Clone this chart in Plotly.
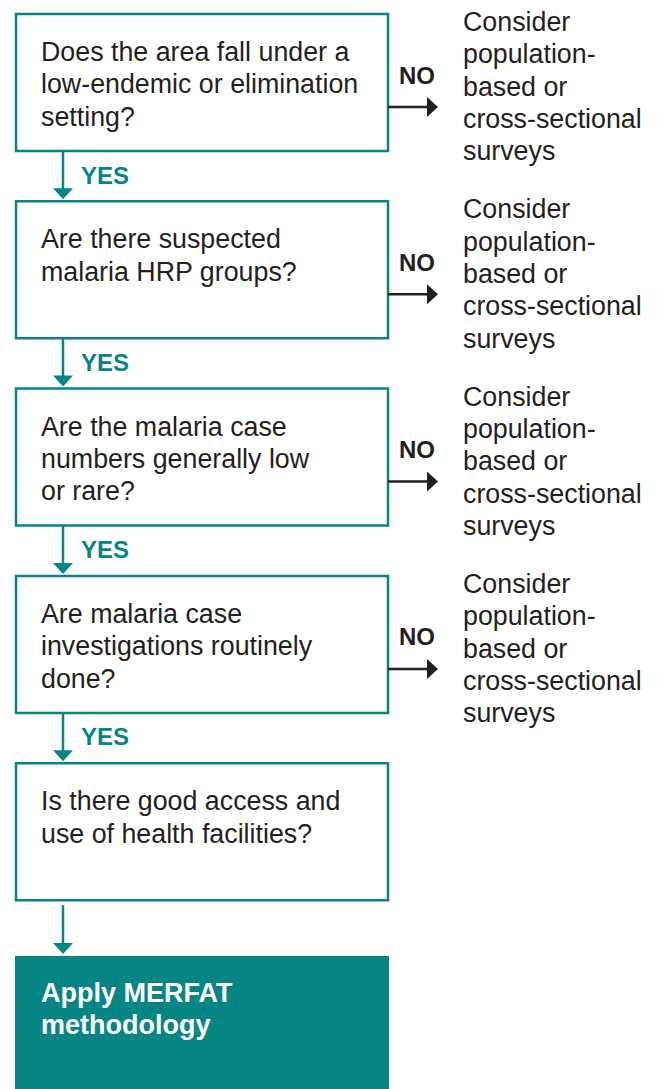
import plotly.graph_objects as go

# ---- data ----
questions = [
    ["Does the area fall under a", "low-endemic or elimination", "setting?"],
    ["Are there suspected", "malaria HRP groups?"],
    ["Are the malaria case", "numbers generally low", "or rare?"],
    ["Are malaria case", "investigations routinely", "done?"],
    ["Is there good access and", "use of health facilities?"],
]
no_outcome = ["Consider", "population-", "based or", "cross-sectional", "surveys"]
no_branch = [True, True, True, True, False]
yes_label = "YES"
no_label = "NO"
final_lines = ["Apply MERFAT", "methodology"]

# ---- layout constants (pixels) ----
W, H = 657, 1089
TEAL = "#078585"
DARK = "#231f20"
BOX_L, BOX_R = 16, 388
BOX_TOP0 = 14
BOX_H = 137
BOX_STEP = 187.3
TEXT_X = 39
LINE_H = 32.3
ARROW_X = 63
FINAL_TOP = 956
FONT = "Liberation Sans, Arial, sans-serif"
FS = 26.8

fig = go.Figure()
shapes = []
annotations = []

for i, lines in enumerate(questions):
    top = BOX_TOP0 + i * BOX_STEP
    bot = top + BOX_H
    shapes.append(dict(type="rect", x0=BOX_L, x1=BOX_R, y0=top, y1=bot,
                       line=dict(color=TEAL, width=2.5), fillcolor="white"))
    for j, ln in enumerate(lines):
        annotations.append(dict(x=TEXT_X, y=top + 38 + j * LINE_H, text=ln,
                                xanchor="left", yanchor="middle", showarrow=False,
                                font=dict(family=FONT, size=FS, color=DARK)))
    # down arrow
    next_top = (BOX_TOP0 + (i + 1) * BOX_STEP) if i < len(questions) - 1 else FINAL_TOP
    shapes.append(dict(type="line", x0=ARROW_X, x1=ARROW_X, y0=bot + (5 if not no_branch[i] else 0),
                       y1=next_top - 8, line=dict(color=TEAL, width=2.5)))
    shapes.append(dict(type="path",
                       path=f"M {ARROW_X-10} {next_top-13} L {ARROW_X+10} {next_top-13} L {ARROW_X} {next_top-2} Z",
                       fillcolor=TEAL, line=dict(width=0)))
    if no_branch[i]:
        annotations.append(dict(x=ARROW_X + 16, y=bot + 24, text=f"<b>{yes_label}</b>",
                                xanchor="left", yanchor="middle", showarrow=False,
                                font=dict(family=FONT, size=24, color=TEAL)))
        # NO arrow
        ay = top + 93
        shapes.append(dict(type="line", x0=BOX_R, x1=428, y0=ay, y1=ay,
                           line=dict(color=DARK, width=2.5)))
        shapes.append(dict(type="path",
                           path=f"M 427 {ay-10} L 438 {ay} L 427 {ay+10} Z",
                           fillcolor=DARK, line=dict(width=0)))
        annotations.append(dict(x=397, y=top + 61, text=f"<b>{no_label}</b>",
                                xanchor="left", yanchor="middle", showarrow=False,
                                font=dict(family=FONT, size=24, color=DARK)))
        for j, ln in enumerate(no_outcome):
            annotations.append(dict(x=461, y=top + 8 + j * LINE_H, text=ln,
                                    xanchor="left", yanchor="middle", showarrow=False,
                                    font=dict(family=FONT, size=FS, color=DARK)))

# final box
shapes.append(dict(type="rect", x0=BOX_L - 1, x1=BOX_R + 1, y0=FINAL_TOP, y1=H + 5,
                   line=dict(width=0), fillcolor=TEAL))
for j, ln in enumerate(final_lines):
    annotations.append(dict(x=TEXT_X, y=FINAL_TOP + 37 + j * LINE_H, text=f"<b>{ln}</b>",
                            xanchor="left", yanchor="middle", showarrow=False,
                            font=dict(family=FONT, size=27, color="white")))

fig.update_layout(
    width=W, height=H, margin=dict(l=0, r=0, t=0, b=0),
    paper_bgcolor="white", plot_bgcolor="white",
    xaxis=dict(range=[0, W], visible=False, fixedrange=True),
    yaxis=dict(range=[H, 0], visible=False, fixedrange=True),
    shapes=shapes, annotations=annotations, showlegend=False,
)
fig.write_html("out.html", config={"displayModeBar": False},
               post_script="document.body.style.margin='0';document.body.style.overflow='hidden';")
